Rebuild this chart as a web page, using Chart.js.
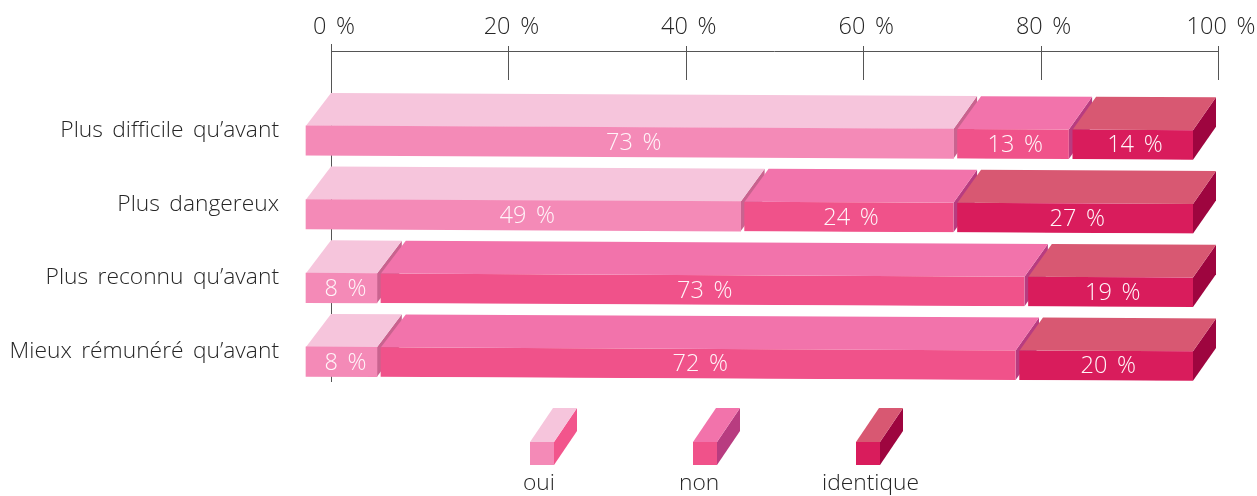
<!DOCTYPE html>
<html lang="fr">
<head>
<meta charset="utf-8">
<title>Perception du métier</title>
<style>
html,body{margin:0;padding:0;background:#fff}
#wrap{width:1257px;height:496px}
canvas{display:block}
</style>
<script src="https://cdn.jsdelivr.net/npm/chart.js@4/dist/chart.umd.min.js"></script>
</head>
<body>
<div id="wrap"><canvas id="c" width="1257" height="496"></canvas></div>
<script>
const categories = ['Plus difficile qu’avant','Plus dangereux','Plus reconnu qu’avant','Mieux rémunéré qu’avant'];
const oui = [73,49,8,8];
const non = [13,24,73,72];
const identique = [14,27,19,20];
const seriesNames = ['oui','non','identique'];
const tickValues = [0,20,40,60,80,100];

const frontColors = ['#F48AB7','#F0528A','#D91C5C'];
const topColors = ['#F6C5DC','#F273AB','#D85872'];
const sideColors = ['#C9638F','#B83C80','#9E053F'];
const legendSideColors = ['#F2558C','#B83C80','#9E053F'];

const FONT = '"Open Sans", sans-serif';
const TEXT = '#262626';
const DY = -33, SHIFT = -25, SKEW = 0.005, GAP = 4;

function poly(ctx, pts, fill){
  ctx.beginPath();
  pts.forEach((p,i)=> i ? ctx.lineTo(p[0],p[1]) : ctx.moveTo(p[0],p[1]));
  ctx.closePath();
  ctx.fillStyle = fill;
  ctx.fill();
}

const bar3d = {
  id:'bar3d',
  beforeDraw(chart){
    chart.ctx.wordSpacing = '3.5px';
  },
  beforeDatasetsDraw(chart){
    const ctx = chart.ctx, x = chart.scales.x;
    const top = 51.5, x0 = x.getPixelForValue(0), x1 = x.getPixelForValue(100);
    const depth = px => 25 - 2 * (px - x0) / (x1 - x0);
    ctx.save();
    ctx.strokeStyle = '#555';
    ctx.lineWidth = 1;
    ctx.beginPath();
    ctx.moveTo(x0, top); ctx.lineTo(x1, top);
    tickValues.forEach(v=>{
      const px = Math.round(x.getPixelForValue(v)) + .5;
      ctx.moveTo(px, v === 0 ? 44 : 46);
      ctx.lineTo(px, v === 0 ? 382 : 80);
    });
    ctx.stroke();
    ctx.restore();

    ctx.save();
    ctx.transform(1, SKEW, 0, 1, SHIFT, -SKEW * x0);
    chart.data.datasets.forEach((ds,d)=>{
      chart.getDatasetMeta(d).data.forEach(bar=>{
        const l = bar.base + (d ? GAP : 0), r = bar.x;
        const t = bar.y - bar.height/2, b = bar.y + bar.height/2;
        poly(ctx, [[r,t],[r+depth(r),t+DY],[r+depth(r),b+DY],[r,b]], sideColors[d]);
        poly(ctx, [[l,t],[l+depth(l),t+DY],[r+depth(r),t+DY],[r,t]], topColors[d]);
      });
    });
  },
  afterDatasetsDraw(chart){
    const ctx = chart.ctx, x = chart.scales.x, x0 = x.getPixelForValue(0);
    ctx.restore();
    ctx.save();
    ctx.font = '300 23.5px ' + FONT;
    ctx.fillStyle = '#FFF5F9';
    ctx.textAlign = 'center';
    ctx.textBaseline = 'middle';
    chart.data.datasets.forEach((ds,d)=>{
      chart.getDatasetMeta(d).data.forEach((bar,i)=>{
        const cx = (bar.base + bar.x)/2 + SHIFT + 4;
        const cy = bar.y + SKEW*(cx - SHIFT - x0) + 1;
        ctx.fillText(ds.data[i] + ' %', cx, cy);
      });
    });
    ctx.restore();
  },
  afterDraw(chart){
    const ctx = chart.ctx;
    const fronts = [530,693,856], textLeft = [523,679,822];
    ctx.save();
    chart.data.datasets.forEach((ds,d)=>{
      const l = fronts[d], r = l+24, t = 442, b = 465;
      poly(ctx, [[r,t],[r+23,t-34],[r+23,b-34],[r,b]], legendSideColors[d]);
      poly(ctx, [[l,t],[l+23,t-34],[r+23,t-34],[r,t]], topColors[d]);
      poly(ctx, [[l,t],[r,t],[r,b],[l,b]], frontColors[d]);
      ctx.font = '300 22.8px ' + FONT;
      ctx.fillStyle = TEXT;
      ctx.textAlign = 'left';
      ctx.textBaseline = 'middle';
      ctx.fillText(ds.label, textLeft[d], 484);
    });
    ctx.restore();
  }
};

const seriesValues = [oui, non, identique];
new Chart(document.getElementById('c'), {
  type:'bar',
  data:{
    labels:categories,
    datasets:seriesNames.map((n,d)=>({
      label:n,
      data:seriesValues[d],
      backgroundColor:frontColors[d],
      borderColor:'rgba(0,0,0,0)',
      borderSkipped:false,
      borderWidth:{left:d?GAP:0,right:0,top:0,bottom:0},
      barThickness:29.5,
      clip:false
    }))
  },
  options:{
    indexAxis:'y',
    responsive:false,
    animation:false,
    events:[],
    layout:{padding:{top:0,left:0,right:39,bottom:97.5}},
    plugins:{legend:{display:false},tooltip:{enabled:false},title:{display:false}},
    scales:{
      x:{
        position:'top',
        stacked:true,
        min:0,max:100,
        afterFit(s){ s.height = 103.65; s.paddingLeft = 0; s.paddingRight = 0; },
        grid:{display:false,drawTicks:false},
        border:{display:false},
        ticks:{
          stepSize:20,
          padding:62,
          labelOffset:3,
          maxRotation:0,
          color:TEXT,
          font:{family:FONT,size:23.5,weight:'300'},
          callback:v=>v+' %'
        }
      },
      y:{
        stacked:true,
        afterFit(s){ s.width = 331; },
        grid:{display:false,drawTicks:false},
        border:{display:false},
        ticks:{
          padding:52,
          labelOffset:-10,
          color:TEXT,
          font:{family:FONT,size:22.8,weight:'300'}
        }
      }
    }
  },
  plugins:[bar3d]
});
</script>
</body>
</html>
